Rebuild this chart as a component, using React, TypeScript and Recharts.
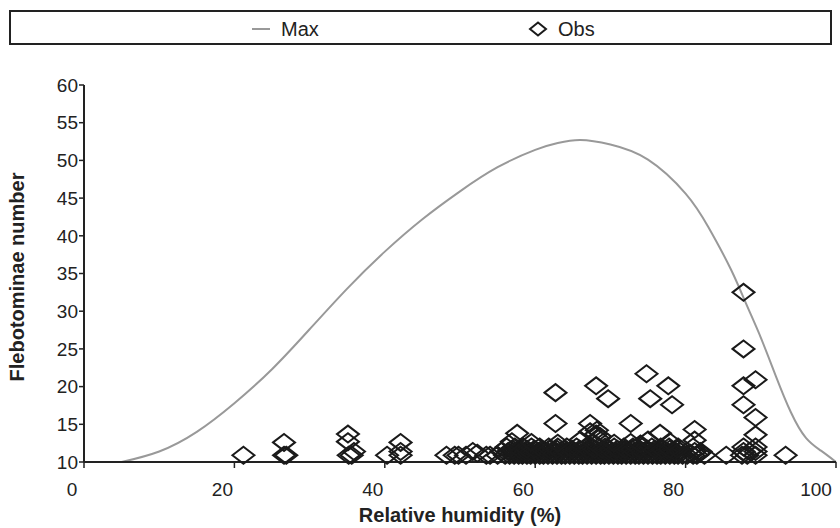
import React from "react";
import { ComposedChart, Line, Scatter, XAxis, YAxis, Legend } from "recharts";

// Max curve (relative humidity %, flebotominae number)
const maxX = [5, 10, 15, 20, 25, 30, 35, 40, 45, 50, 55, 60, 63, 66, 70, 75, 80, 83, 86, 88, 90, 92, 94, 96, 98, 100];
const maxY = [10, 11.4, 14, 17.8, 22.3, 27.6, 33.0, 37.9, 42.2, 45.9, 49.1, 51.4, 52.3, 52.7, 52.1, 50.1, 45.6, 41.2, 35.6, 31.1, 26.5, 21.4, 16.6, 13.2, 11.5, 10];

// Observations
const obsLowX = [21.2, 26.6, 26.9, 35.2, 35.6, 40.3, 42.1, 48.2, 49.3, 49.8, 50.8, 53.5, 54.0, 55.0, 56.0, 56.6, 57.2, 57.8, 58.3, 58.9, 59.4, 60.0, 60.6, 61.1, 61.7, 62.3, 62.9, 63.5, 64.0, 64.6, 65.2, 65.8, 66.3, 66.9, 67.5, 68.1, 68.7, 69.2, 69.8, 70.4, 71.0, 71.5, 72.1, 72.7, 73.3, 73.8, 74.4, 75.0, 75.6, 76.2, 76.7, 77.3, 77.9, 78.5, 79.0, 79.6, 80.2, 81.0, 81.5, 82.5, 85.4, 87.5, 88.2, 89.3, 93.3];
const obsMidX = [35.9, 42.1, 51.7, 55.5, 56.4, 57.0, 57.6, 58.1, 58.7, 59.2, 59.8, 60.4, 61.0, 61.6, 62.2, 62.8, 63.4, 64.0, 64.6, 65.2, 65.8, 66.5, 67.1, 67.7, 68.3, 68.9, 69.5, 70.2, 70.8, 71.4, 72.0, 72.6, 73.2, 73.8, 74.4, 75.0, 75.6, 76.3, 76.9, 77.5, 78.1, 78.7, 79.3, 81.2, 82.0, 87.7, 88.5, 89.3];
const obsRow3X = [56.2, 57.3, 58.4, 59.5, 60.6, 61.8, 63.0, 64.2, 65.5, 66.7, 67.5, 68.4, 69.3, 70.5, 71.8, 73.0, 74.2, 75.5, 76.7, 77.8, 79.0, 81.0, 87.7, 89.3];
const obsRow4X = [52.3, 56.9, 57.5, 58.0, 58.6, 59.1, 59.7, 60.3, 60.9, 61.4, 62.0, 62.6, 63.2, 63.8, 64.3, 64.9, 65.5, 66.1, 66.7, 67.2, 67.8, 68.4, 69.0, 69.6, 70.1, 70.7, 71.3, 71.9, 72.4, 73.0, 73.6, 74.2, 74.8, 75.3, 75.9, 76.5, 77.1, 77.7, 78.2, 78.8, 80.6, 81.8];
const obsRow5X = [57.0, 57.9, 58.9, 59.9, 60.9, 61.9, 62.9, 63.9, 64.9, 65.9, 66.9, 67.9, 68.9, 69.9, 70.9, 71.9, 72.9, 73.9, 74.9, 75.9, 76.9, 77.9, 78.9];
const obsUpperX = [26.6, 35.1, 35.1, 42.1, 57.6, 56.9, 62.7, 67.3, 67.3, 66.0, 68.1, 68.4, 67.7, 68.6, 68.2, 72.7, 72.7, 75.0, 76.6, 77.9, 81.2, 81.2, 89.3, 59.5, 63.0, 70.5, 74.0];
const obsUpperY = [12.6, 13.7, 12.7, 12.6, 13.8, 12.7, 15.1, 15.1, 14.0, 12.9, 13.7, 13.1, 12.6, 13.4, 14.2, 15.1, 12.6, 12.9, 13.8, 12.7, 14.3, 12.9, 13.6, 12.6, 12.5, 12.5, 12.4];
const obsHighX = [62.7, 68.1, 69.7, 74.8, 75.3, 77.7, 78.2, 87.7, 87.7, 87.7, 89.3, 87.7, 89.3];
const obsHighY = [19.2, 20.1, 18.4, 21.7, 18.4, 20.1, 17.6, 32.5, 25.0, 20.1, 20.9, 17.6, 15.9];
const lowY = 10.9;
const midY = 11.4;
const row3Y = 12.0;
const row4Y = 11.15;
const row5Y = 11.7;

const xTicks = [0, 20, 40, 60, 80, 100];
const yTicks = [10, 15, 20, 25, 30, 35, 40, 45, 50, 55, 60];

const maxData = maxX.map((x, i) => ({ x, y: maxY[i] }));
const obsData = [
  ...obsLowX.map((x) => ({ x, y: lowY })),
  ...obsMidX.map((x) => ({ x, y: midY })),
  ...obsRow3X.map((x) => ({ x, y: row3Y })),
  ...obsRow4X.map((x) => ({ x, y: row4Y })),
  ...obsRow5X.map((x) => ({ x, y: row5Y })),
  ...obsUpperX.map((x, i) => ({ x, y: obsUpperY[i] })),
  ...obsHighX.map((x, i) => ({ x, y: obsHighY[i] })),
];

const FONT = "'Liberation Sans', Arial, Helvetica, sans-serif";

const Diamond = (props: any) => {
  const { cx, cy } = props;
  if (cx == null || cy == null) return null;
  const w = 11;
  const h = 8.5;
  return (
    <path
      d={`M${cx - w},${cy} L${cx},${cy - h} L${cx + w},${cy} L${cx},${cy + h} Z`}
      fill="none"
      stroke="#1a1a1a"
      strokeWidth={2}
    />
  );
};

const XTick = (props: any) => {
  const { x, y, payload } = props;
  return (
    <text x={x - 12} y={y} dy="0.71em" textAnchor="middle" fontSize={19} fill="#222" fontFamily={FONT}>
      {payload.value}
    </text>
  );
};

const LegendBox = () => (
  <div
    style={{
      position: "relative",
      width: 823,
      height: 35,
      border: "2px solid #222",
      boxSizing: "border-box",
      fontFamily: FONT,
      color: "#222",
      background: "#fff",
    }}
  >
    <svg width={823} height={35} style={{ position: "absolute", left: 0, top: 0 }}>
      <line x1={241} y1={17} x2={259} y2={17} stroke="#999" strokeWidth={2} />
      <text x={270} y={23.5} fontSize={20} fontFamily={FONT} fill="#222">Max</text>
      <path d="M519,17 L527,10.5 L535,17 L527,23.5 Z" fill="none" stroke="#1a1a1a" strokeWidth={2} />
      <text x={547} y={23.5} fontSize={20} fontFamily={FONT} fill="#222">Obs</text>
    </svg>
  </div>
);

export default function App() {
  return (
    <div style={{ position: "absolute", left: 0, top: 0, width: 840, height: 528, background: "#fff" }}>
      <ComposedChart
        width={840}
        height={528}
        margin={{ top: 85, right: 4, left: 0, bottom: 26 }}
        style={{ fontFamily: FONT }}
      >
        <XAxis
          type="number"
          dataKey="x"
          domain={[0, 100]}
          ticks={xTicks}
          allowDecimals={false}
          height={40}
          tickSize={6}
          tickMargin={15}
          tick={<XTick />}
          axisLine={{ stroke: "#222", strokeWidth: 2 }}
          tickLine={{ stroke: "#222", strokeWidth: 1.5 }}
          label={(p: any) => (
            <text
              x={460}
              y={522}
              textAnchor="middle"
              fontSize={20}
              fontWeight="bold"
              fill="#222"
              fontFamily={FONT}
            >
              Relative humidity (%)
            </text>
          )}
        />
        <YAxis
          type="number"
          dataKey="y"
          domain={[10, 60]}
          ticks={yTicks}
          width={84}
          tickSize={5}
          tickMargin={1}
          tick={{ fontSize: 19, fill: "#222", fontFamily: FONT }}
          axisLine={{ stroke: "#222", strokeWidth: 2 }}
          tickLine={{ stroke: "#222", strokeWidth: 1.5 }}
          label={(p: any) => (
            <text
              x={17}
              y={277}
              transform="rotate(-90 17 277)"
              textAnchor="middle"
              dominantBaseline="central"
              fontSize={20}
              fontWeight="bold"
              fill="#222"
              fontFamily={FONT}
            >
              Flebotominae number
            </text>
          )}
        />
        <Legend
          layout="horizontal"
          verticalAlign="middle"
          align="center"
          wrapperStyle={{ position: "absolute", top: 10, left: 9, width: 823, height: 35 }}
          content={() => <LegendBox />}
        />
        <Line
          data={maxData}
          dataKey="y"
          name="Max"
          type="natural"
          stroke="#999"
          strokeWidth={2}
          dot={false}
          activeDot={false}
          isAnimationActive={false}
        />
        <Scatter
          data={obsData}
          dataKey="y"
          name="Obs"
          shape={<Diamond />}
          isAnimationActive={false}
        />
      </ComposedChart>
    </div>
  );
}
